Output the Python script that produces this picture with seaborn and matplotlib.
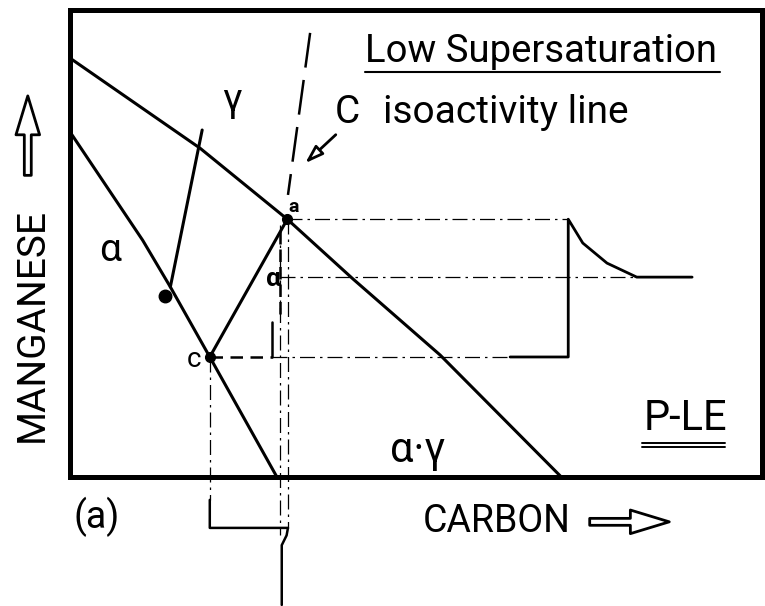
import matplotlib
matplotlib.use("Agg")
import matplotlib.pyplot as plt
import seaborn as sns
import pandas as pd

sns.set_theme(style="white")
plt.rcParams['font.family'] = ['Roboto', 'DejaVu Sans']
plt.rcParams['text.color'] = 'black'

# Phase boundaries in (carbon, manganese), schematic units 0-100
gamma_boundary_c = [0, 18.8, 31.4, 40.9, 53.5, 71.0]
gamma_boundary_mn = [89.7, 70.4, 55.2, 42.4, 26.1, 0]
alpha_boundary_c = [0, 10.5, 14.5, 20.2, 29.9]
alpha_boundary_mn = [73.9, 50.7, 40.7, 25.7, 0]

# Equilibrium tie-line through the alloy composition
tie_c = [14.5, 19.1]
tie_mn = [40.7, 74.3]
alloy_c = [13.7]
alloy_mn = [38.8]

# Operating tie-line under P-LE: interface compositions c (alpha) and a (gamma)
interface_c = [20.2, 31.4]
interface_mn = [25.7, 55.2]
alpha_prime_c = 30.3
alpha_prime_mn = 42.8

# Isoactivity line of carbon
iso_c = [34.7, 31.5]
iso_mn = [95.1, 60.4]

# Manganese profile across the interface
mn_profile_c = [63.6, 72.0, 72.0, 74.1, 77.6, 81.9, 89.9]
mn_profile_mn = [25.7, 25.7, 55.2, 50.1, 45.8, 42.8, 42.8]

# Carbon profile below the diagram
c_profile_c = [20.2, 20.2, 31.5, 31.3, 30.6, 30.6]
c_profile_y = [-4.9, -10.9, -10.9, -12.5, -14.6, -27.4]

curves = pd.concat([
    pd.DataFrame({"carbon": gamma_boundary_c, "mn": gamma_boundary_mn, "curve": "gamma"}),
    pd.DataFrame({"carbon": alpha_boundary_c, "mn": alpha_boundary_mn, "curve": "alpha"}),
    pd.DataFrame({"carbon": tie_c, "mn": tie_mn, "curve": "tie"}),
    pd.DataFrame({"carbon": interface_c, "mn": interface_mn, "curve": "interface"}),
])

fig = plt.figure(figsize=(7.65, 6.06), dpi=100)
ax = fig.add_axes([70 / 765, 129 / 606, 692 / 765, 467 / 606])
ax.set_xlim(0, 100)
ax.set_ylim(0, 100)
ax.set_xticks([])
ax.set_yticks([])
for s in ax.spines.values():
    s.set_linewidth(3.6)
    s.set_color("black")
    s.set_visible(True)

sns.lineplot(data=curves, x="carbon", y="mn", units="curve", estimator=None,
             sort=False, color="black", lw=2.2, ax=ax, legend=False)
ax.set_xlabel("")
ax.set_ylabel("")

dashdot = (0, (12, 4, 2, 4))
thin = dict(color="black", lw=0.9, clip_on=False)

# isoactivity line
ax.plot(iso_c, iso_mn, color="black", lw=1.8, linestyle=(0, (14, 5)))

# horizontal projections to the manganese profile
ax.plot([interface_c[1], mn_profile_c[1]], [interface_mn[1]] * 2, linestyle=dashdot, **thin)
ax.plot([alpha_prime_c, mn_profile_c[5]], [alpha_prime_mn] * 2, linestyle=dashdot, **thin)
ax.plot([interface_c[0], 29.2], [interface_mn[0]] * 2, color="black", lw=1.8,
        linestyle=(0, (5, 3)))
ax.plot([29.2, mn_profile_c[0]], [interface_mn[0]] * 2, linestyle=dashdot, **thin)
ax.plot([29.2, 29.2], [interface_mn[0], 33.2], color="black", lw=1.8)

# vertical projections to the carbon profile
ax.plot([interface_c[0]] * 2, [interface_mn[0], c_profile_y[0]], linestyle=dashdot, **thin)
ax.plot([c_profile_c[2]] * 2, [interface_mn[1], c_profile_y[2]], linestyle=dashdot, **thin)
ax.plot([alpha_prime_c] * 2, [54.0, c_profile_y[3]], linestyle=dashdot, **thin)
ax.plot([alpha_prime_c] * 2, [35.0, 53.0], color="black", lw=1.8, linestyle=(0, (5, 2)))

# concentration profiles
ax.plot(mn_profile_c, mn_profile_mn, color="black", lw=2.0)
ax.plot(c_profile_c, c_profile_y, color="black", lw=1.8, clip_on=False)

# marked compositions
ax.plot(alloy_c, alloy_mn, "o", color="black", ms=9)
ax.plot(interface_c, interface_mn, "o", color="black", ms=7)
ax.text(interface_c[0] - 1.2, interface_mn[0] - 0.6, "c", fontsize=20, ha="right",
        va="center")
ax.text(interface_c[1] + 0.2, interface_mn[1] + 0.6, "a", fontsize=14, ha="left",
        va="bottom", fontweight="bold")
ax.text(alpha_prime_c - 0.9, alpha_prime_mn - 0.5, "α", fontsize=19, ha="center",
        va="center", fontweight="bold")

# region labels
ax.text(23.4, 80.7, "γ", fontsize=28, ha="center", va="center")
ax.text(5.8, 48.6, "α", fontsize=28, ha="center", va="center")
ax.text(50.3, 5.6, "α·γ", fontsize=30, ha="center", va="center")

# titles
ax.text(42.6, 88.9, "Low Supersaturation", fontsize=27.5, ha="left", va="baseline")
ax.plot([42.6, 94.0], [86.7, 86.7], color="black", lw=1.5, clip_on=False)
ax.text(38.3, 75.8, "C", fontsize=28, ha="left", va="baseline")
ax.text(45.3, 75.8, "isoactivity line", fontsize=28, ha="left", va="baseline")
ax.annotate("", xy=(33.7, 66.8), xytext=(38.7, 73.7),
            arrowprops=dict(arrowstyle="-|>,head_length=0.9,head_width=0.3",
                            color="black", lw=2.0, fc="white"))

ax.text(88.9, 12.6, "P-LE", fontsize=30, ha="center", va="center")
ax.plot([82.7, 94.7], [7.3, 7.3], color="black", lw=1.4)
ax.plot([82.7, 94.7], [6.4, 6.4], color="black", lw=1.4)

# axis captions
ax.text(61.7, -9.6, "CARBON", fontsize=27, ha="center", va="center", clip_on=False)
ax.text(3.8, -8.6, "(a)", fontsize=27, ha="center", va="center", clip_on=False)
ax.text(-5.4, 32.5, "MANGANESE", fontsize=28, ha="center", va="center",
        rotation=90, clip_on=False)

hollow = dict(arrowstyle="simple,head_length=28,head_width=17,tail_width=5",
              mutation_scale=1, fc="white", ec="black", lw=2.0, clip_on=False)
ax.annotate("", xy=(-6.1, 82.2), xytext=(-6.1, 64.0), arrowprops=hollow,
            annotation_clip=False)
ax.annotate("", xy=(87.0, -9.6), xytext=(74.7, -9.6), arrowprops=hollow,
            annotation_clip=False)

fig.savefig("out.png", dpi=100, facecolor="white")
